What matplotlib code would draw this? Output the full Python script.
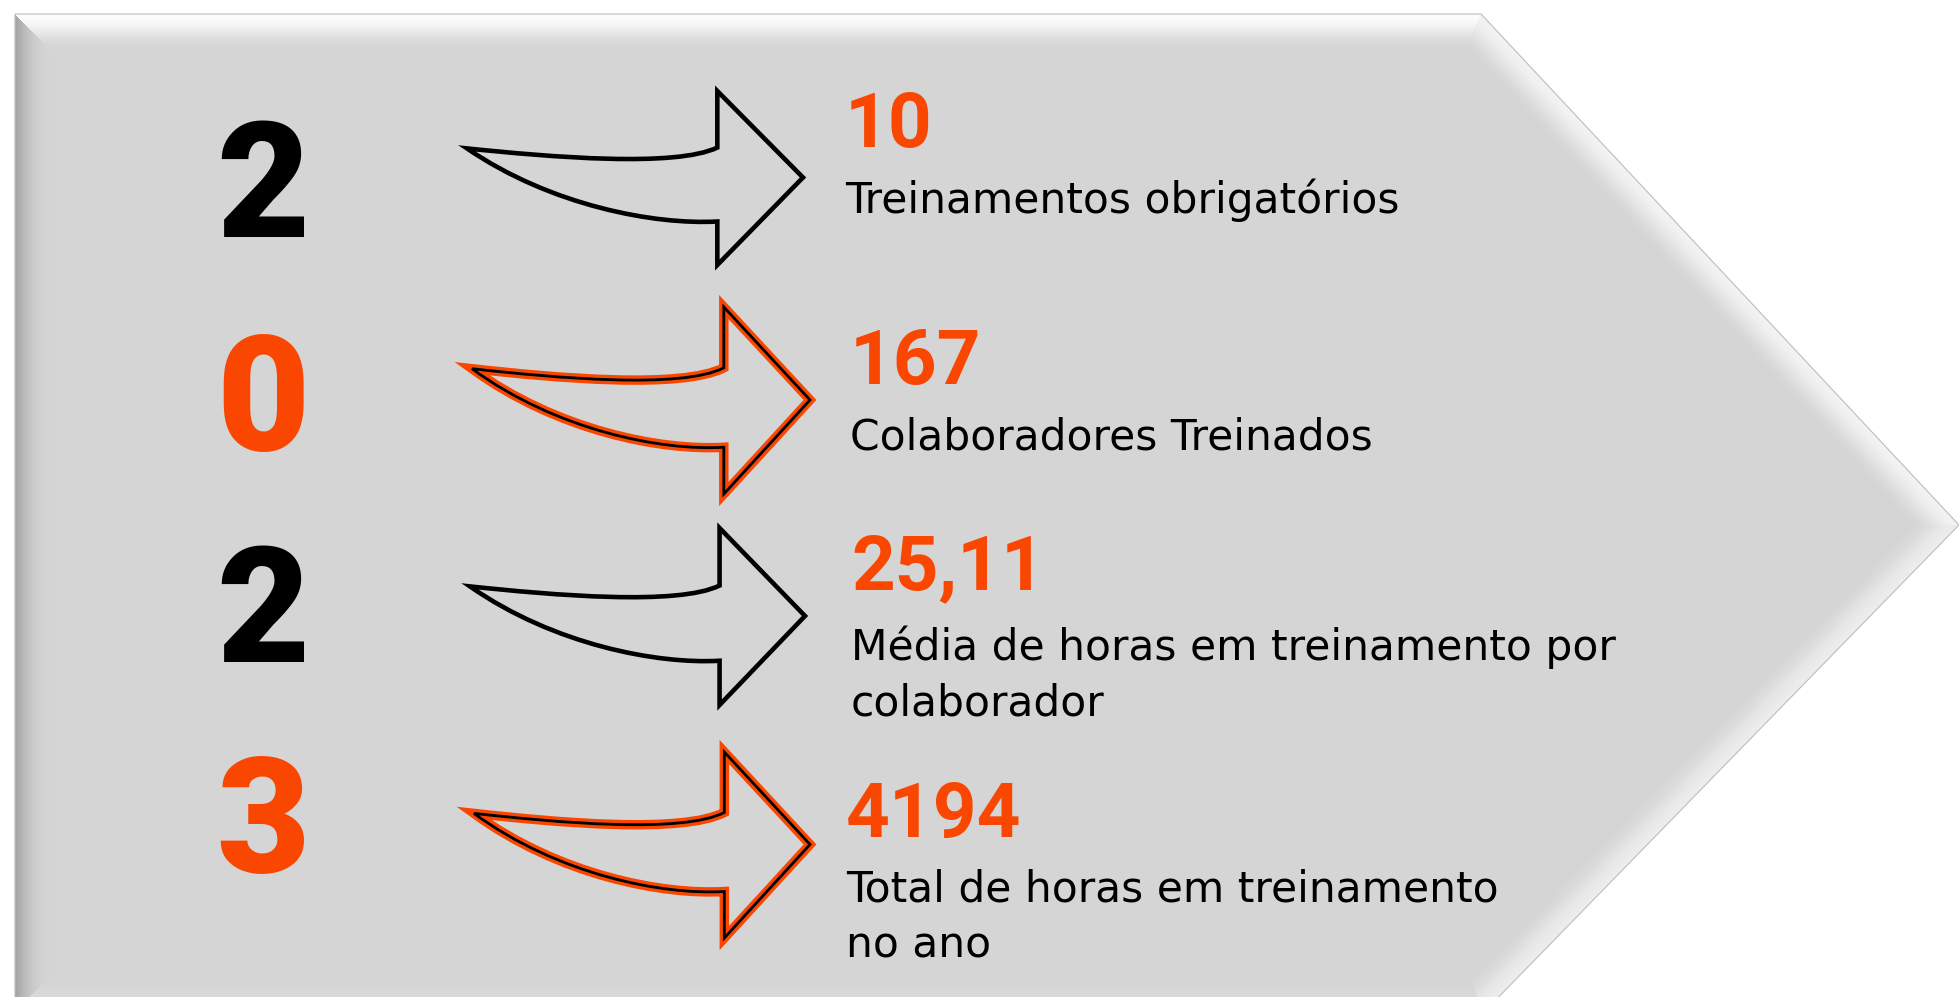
import numpy as np
import matplotlib
matplotlib.use("Agg")
import matplotlib.pyplot as plt
from matplotlib.path import Path
from matplotlib.patches import PathPatch, Polygon

# ---------------- data ----------------
year_digits = ['2', '0', '2', '3']
digit_colors = ['#000000', '#F94701', '#000000', '#F94701']
values = ['10', '167', '25,11', '4194']
labels = [
    ['Treinamentos obrigatórios'],
    ['Colaboradores Treinados'],
    ['Média de horas em treinamento por', 'colaborador'],
    ['Total de horas em treinamento', 'no ano'],
]
arrow_styles = ['black', 'orange', 'black', 'orange']

# ---------------- layout ----------------
W, H = 1959, 997
ORANGE = '#F94701'
BASE = 213.0

digit_x = 263
digit_base = [237, 450, 662, 872]
text_x = [845, 850, 851, 846]
value_base = [147, 384, 589, 837]
label_base = [213, 449, 660, 901]
line_gap = 56
arrow_boxes = [(467, 803, 91, 265), (472, 810, 307, 494),
               (470, 805, 528, 705), (474, 810, 752, 938)]

fig = plt.figure(figsize=(W / 100, H / 100), dpi=100)
ax = fig.add_axes([0, 0, 1, 1])
ax.set_xlim(0, W)
ax.set_ylim(H, 0)
ax.axis('off')
fig.patch.set_facecolor('white')

# ---------------- bevelled pentagon ----------------
verts = np.array([(15, 14), (1481, 14), (1959, 525), (1484, 1012), (15, 1012)], float)
amps = [40, 30, 24, 8, -52]
bevel = 36.0
yy, xx = np.mgrid[0:H, 0:W] + 0.5
cx, cy = verts.mean(axis=0)
dists = []
for i in range(len(verts)):
    p, q = verts[i], verts[(i + 1) % len(verts)]
    e = q - p
    n = np.array([-e[1], e[0]]) / np.hypot(*e)
    if (cx - p[0]) * n[0] + (cy - p[1]) * n[1] < 0:
        n = -n
    dists.append((xx - p[0]) * n[0] + (yy - p[1]) * n[1])
dists = np.array(dists)
inside = np.all(dists >= 0, axis=0)
idx = np.argmin(dists, axis=0)
dmin = np.min(dists, axis=0)
t = np.clip(dmin / bevel, 0, 1)
prof_smooth = 1 - (3 * t ** 2 - 2 * t ** 3)
prof_steep = (1 - t) ** 2.2
prof = np.where(idx == 4, prof_steep, prof_smooth)
amp = np.array(amps)[idx]
val = np.clip(BASE + amp * prof, 0, 255) / 255.0
img = np.zeros((H, W, 4))
img[..., 0] = val
img[..., 1] = val
img[..., 2] = val
img[..., 3] = inside.astype(float)
ax.imshow(img, extent=(0, W, H, 0), origin='upper', interpolation='bilinear', zorder=1)
ax.add_patch(Polygon(verts, closed=True, fill=False, edgecolor='#bdbdbd', lw=0.8, zorder=2))

# ---------------- arrows ----------------
def arrow_path(x0, x1, y0, y1):
    w, h = x1 - x0, y1 - y0
    pts = [
        (0.0, 0.33), (0.25, 0.38), (0.62, 0.44), (0.745, 0.325),
        (0.745, 0.0), (1.0, 0.497), (0.745, 1.0), (0.745, 0.75),
        (0.56, 0.77), (0.25, 0.66), (0.0, 0.33),
    ]
    codes = [Path.MOVETO, Path.CURVE4, Path.CURVE4, Path.CURVE4,
             Path.LINETO, Path.LINETO, Path.LINETO, Path.LINETO,
             Path.CURVE4, Path.CURVE4, Path.CURVE4]
    pts = [(x0 + u * w, y0 + v * h) for u, v in pts]
    return Path(pts + [pts[0]], codes + [Path.CLOSEPOLY])

for (x0, x1, y0, y1), style in zip(arrow_boxes, arrow_styles):
    path = arrow_path(x0, x1, y0, y1)
    if style == 'orange':
        ax.add_patch(PathPatch(path, fill=False, edgecolor=ORANGE, lw=6.8,
                               joinstyle='miter', zorder=3))
        ax.add_patch(PathPatch(path, fill=False, edgecolor='black', lw=2.0,
                               joinstyle='miter', zorder=4))
    else:
        ax.add_patch(PathPatch(path, fill=False, edgecolor='black', lw=3.3,
                               joinstyle='miter', zorder=3))

# ---------------- text ----------------
for d, c, yb in zip(year_digits, digit_colors, digit_base):
    ax.text(digit_x, yb, d, color=c, fontsize=116, fontweight='black',
            family='Roboto', ha='center', va='baseline', zorder=5)

for v, x, yb in zip(values, text_x, value_base):
    ax.text(x, yb, v, color=ORANGE, fontsize=55, fontweight='bold',
            family='Roboto', ha='left', va='baseline', zorder=5)

for lines, x, yb in zip(labels, text_x, label_base):
    for k, line in enumerate(lines):
        ax.text(x, yb + k * line_gap, line, color='black', fontsize=30.5,
                family='DejaVu Sans', ha='left', va='baseline', zorder=5)

fig.savefig('out.png', dpi=100, facecolor='white')
